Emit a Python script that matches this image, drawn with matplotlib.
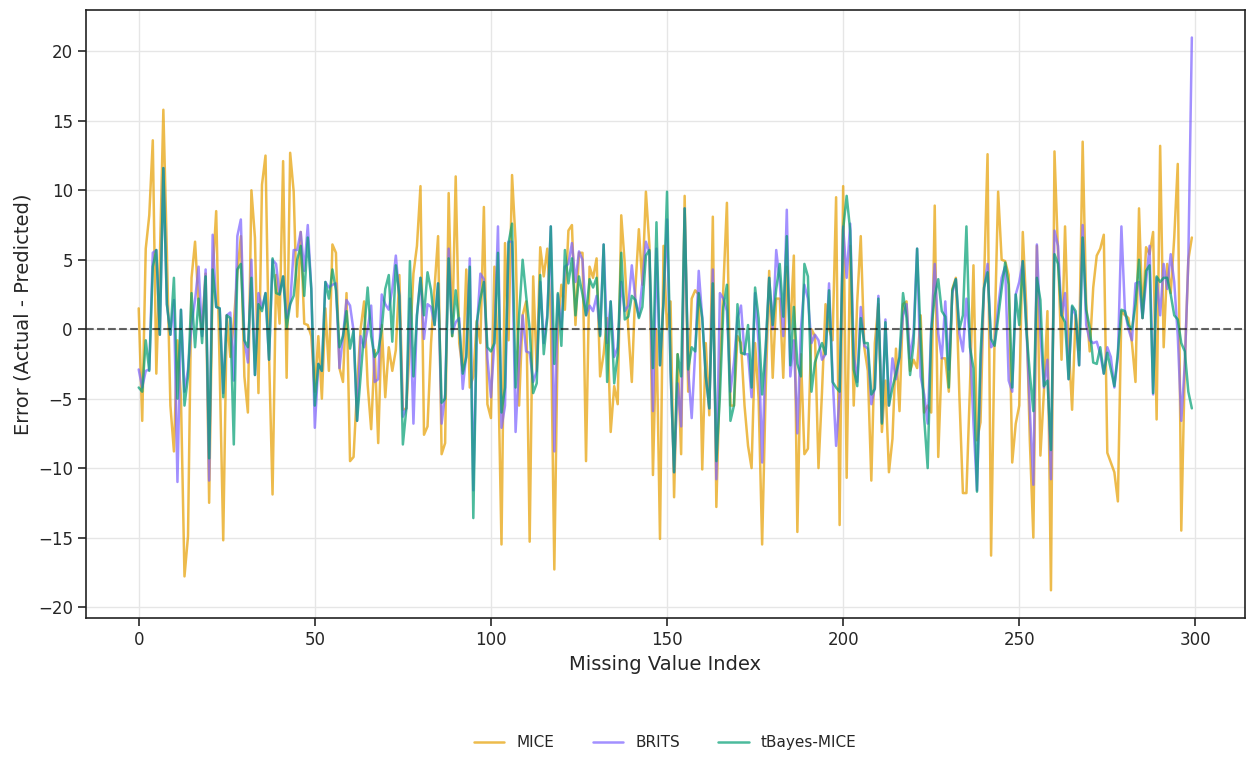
import matplotlib
matplotlib.use("Agg")
import matplotlib.pyplot as plt
import seaborn as sns
import numpy as np

# errors per missing value
mice = [
    1.5, -6.6, 5.8, 8.2, 13.6, -3.2, 5, 15.8, 5.5, -5.5,
    -8.8, -0.8, -5, -17.8, -14.9, 3.7, 6.3, 1.8, 0, 4,
    -12.5, 4, 8.5, -3, -15.2, 1, -2, 0.5, 4, 6.7,
    -3.4, -6, 10, 6.6, -4.6, 10.4, 12.5, -1.8, -11.9, 3.9,
    0.4, 12.1, -3.5, 12.7, 9.9, 0.9, 7, 0.4, 0.3, -0.5,
    -4.5, -0.5, -5, 1.5, -3, 6.1, 5.5, -2.8, -3.8, 2.6,
    -9.5, -9.2, -4.2, 0, 2, -4, -7.2, -1.5, -8.2, 0.3,
    -4.9, -1.3, -3, -1.5, 3.9, -5.8, -5.7, -1, 4, 6,
    10.3, -7.6, -7, -1, 3, 6.7, -9, -8.2, 9.8, -0.5,
    11, -1, -3, 4.3, -4.2, -3.4, 0.6, -1, 8.8, -5.4,
    -6.4, 4.5, -2, -15.5, 6.2, -0.8, 11.1, 6.3, -5.5, 1,
    2, -15.3, 3.8, -3, 5.9, 3.8, 5.8, 1, -17.3, 0,
    3.2, 1.4, 7.1, 7.5, 0.3, 5.5, 5.5, -9.5, 4.5, 3.7,
    5.1, -3.4, -1.8, 0.8, -7.4, -4.1, -5.4, 8.2, 4.7, 0,
    -3.8, 2.9, 7.2, 3.2, 9.9, 6, -10.5, 0, -15.1, 6,
    0, 2, -12.1, -1.8, -9, 9.6, -4.5, 2.2, 2.8, 2.5,
    -10.1, -1, -6.2, 8.1, -12.8, -3, 3, 9.1, -5.5, -5.5,
    -0.5, -1, -5.5, -8.4, -10, -1, -5, -15.5, -4.5, 4.2,
    -3.5, 2.2, 2.2, -3.5, 4.5, 0, 5.3, -14.6, -1.8, -9,
    -8.6, 0, -0.5, -10, -4.5, 1.8, 0, -0.8, 9.5, -14.1,
    10.3, -10.7, 6, -5.5, 2, 6.7, -1.3, -3, -10.9, -1,
    1.8, -7.4, -3.7, -10.3, -7.9, -1.4, -5.9, 1.8, 2, -3,
    -2.2, -2.8, 1, -6, -5.5, -6, 8.9, -9.2, -2.1, -2.1,
    -4.5, 2.9, 3.7, -4.8, -11.8, -11.8, -4.2, 4.6, -8, -6.7,
    3.4, 12.6, -16.3, -0.5, 9.9, 5, 4.9, 3.9, -9.6, -6.8,
    -5.5, 7, 1.6, -8, -15, 6, -9.1, -4.5, 1.3, -18.8,
    12.8, 5.5, -2.2, 7.4, -1, -5.8, 1, -1.5, 13.5, 1.8,
    -1.6, 3, 5.3, 5.8, 6.8, -8.9, -9.6, -10.3, -12.4, 1.3,
    1, 0.8, -1, -3.8, 8.7, 0.8, 5.9, 5.4, 7, -6.5,
    13.2, -1.3, 4.7, 2.6, 6.6, 11.9, -14.5, -2.6, 5, 6.6,
]

brits = [
    -2.9, -4.2, -3, -2.9, 5.5, 5.7, -0.4, 11.6, 1.8, -0.4,
    2.1, -11, 1.4, -4.5, -2.9, 0.3, 2.1, 4.5, -0.5, 4.3,
    -10.9, 6.8, 1.6, 1.5, -4.6, 1, 1.2, -3.7, 6.7, 7.9,
    -0.8, -2.4, 5, -3.3, 2.6, 1.5, 2.6, -2.2, 5, 4.7,
    2.5, 3.8, 0.8, 1.8, 5.7, 5.7, 7, 4.2, 7.5, 2.9,
    -7.1, -2.5, -3, 3.4, 3, 3.2, 3.3, -2.8, -0.5, 2.1,
    1.7, -0.1, -6.6, -0.5, -1.3, 0, 1.7, -3.8, -3.6, 2.5,
    1.8, 1.4, 2.9, 5.3, 2.4, -6.3, -5.7, 2.2, -6.8, 1,
    3.7, -0.7, 1.8, 1.6, 0.3, 3.3, -6.8, -4.7, 5.8, -0.3,
    0.5, 0.8, -4.3, -1.8, 5.1, -11.6, 0, 4, 3.6, -2.1,
    -4.9, -0.8, 7.4, -7.1, -5.5, 6.3, 6.3, -7.4, -2.4, 1,
    -1.6, -1.7, -3.8, -3, 3.4, -1, 1, 7.4, -8.8, 2.5,
    0, 4.5, 4.7, 6.2, 3.4, 5.6, 5, 1, 1.7, 1.3,
    2.4, -0.4, 6.1, -1, 2, -2, -1.3, 3.4, 1.3, 1.7,
    4.6, 2.2, 0.9, 3.4, 6.3, 5.5, -5.9, 5.8, -2.6, 2,
    7.9, -3, -10.3, -3.9, -7, 8.7, -2.9, -6.4, -1.6, 4.2,
    0.8, -3.4, -5.7, 4.3, -10.8, 2.6, 2.2, 1.3, -4.5, -2.4,
    0.8, 1.7, -1.8, -1.8, -4.9, 2.6, -1, -9.6, -1.6, 3.7,
    0, 5.7, 3.4, -0.5, 8.6, -3.4, -0.8, -7.5, 0, 3.2,
    2.2, -1, -0.4, -0.8, -2.2, -1.8, 3.3, -3.4, -8.4, -4.7,
    7.4, 3.7, 7.6, -1.8, -3.8, 1.6, -1.2, -1.4, -5.4, -4.2,
    2.4, -6.7, 0.7, -5.5, -2.1, -3.6, -2, 1, 1.8, -2.1,
    -0.3, 5.8, -3.4, -4.7, -6.8, 0, 4.7, -0.3, -2.1, 2,
    -2.9, 2.6, 3.6, -0.3, -1.6, 2.2, -0.9, -6.8, -11.6, -2.9,
    2.9, 4.7, -1.3, -1, 1.6, 3.7, 4.5, -3.7, -4.5, 2.5,
    3.4, 4.9, 0.3, -5.8, -11.2, 6.1, -0.3, -4.2, -2.2, -10.8,
    7.1, 6, 1, 2.6, -3.6, 1.6, 1, -2.6, 7.5, 0.3,
    -0.8, -1, -0.9, -1.8, -3.2, -1.3, -2, -4.2, -2, 7.4,
    1.3, 0, -0.8, 3.3, 3.4, 0.8, 3.4, 6, -4.7, 3.7,
    1, 4.7, 2.9, 5.4, 3.4, -0.5, -6.6, -2.5, 5, 21,
]

tbayes = [
    -4.2, -4.5, -0.8, -3, 4.5, 5.7, -0.4, 11.6, 1.8, -0.4,
    3.7, -5, 1.4, -5.5, -3.4, 2.6, -1.3, 2.2, -1, 3.8,
    -9.3, 4.3, 1.6, 1.5, -4.9, 1, 0.8, -8.3, 4.3, 4.7,
    -0.8, -1.3, 3.7, -3.3, 1.8, 1.3, 2.6, -2.2, 5.1, 2.6,
    2.5, 3.8, 0.1, 1.8, 2.4, 5, 6, 2.4, 6.6, 2.9,
    -5.5, -2.5, -3, 3.4, 2.2, 4.3, 2.8, -1.3, -0.5, 1.3,
    -1.4, -0.1, -6.6, -3.4, -0.3, 3, -0.5, -2, -1.6, 0,
    2.9, 3.9, -0.9, 4.6, 2.4, -8.3, -5.7, 4.9, -3.4, 1,
    3.7, 1, 4.1, 2.8, 0.3, 3.3, -5.3, -5, 5.1, -0.5,
    2.8, 0.3, -3.2, -2, 4.5, -13.6, 0.5, 2.2, 3.4, -1.3,
    -1.6, -1, 5.5, -6, -4.2, 6.2, 7.6, -4.2, 1, 5,
    2.4, 0, -4.6, -3.9, 3.9, -1.8, 0.8, 7.4, -2.5, 2.6,
    -1.2, 5.7, 3.3, 5.1, 1, 3.8, 2.5, 1, 3.6, 3,
    3.7, -0.5, 6.1, -3.8, 2, -3.9, -1.8, 5.5, 0.7, 0.9,
    2.4, 2.1, 0.8, 1.6, 5.3, 5.7, -2.8, 7.7, -2.6, 2,
    9.9, -3, -10.3, -1.8, -3.4, 8.7, -2.9, -1.3, -1.6, 2.6,
    0.8, -3.4, -5.7, 3.3, -9.5, -4.9, 1.6, 3.2, -6.6, -5.5,
    1.8, -1.7, -1.8, 0.3, -4.2, 3, 0.8, -4.7, -1.3, 3.7,
    0.3, 2.9, 4.7, 0.9, 6.7, -2.6, 1.6, -2.5, -3.4, 4.7,
    3.8, -4.5, -2.4, -1.6, -1, -1.8, 2.8, -3.8, -4.2, -4.5,
    7.2, 9.6, 7.1, -2.9, -4.1, 0.8, -1, -1, -4.7, -4.3,
    2.2, -6.8, 0.5, -5.5, -4.2, -3.2, -2, 2.6, 0.8, -3.3,
    -1, 5.8, -0.5, -6.4, -10, -0.1, 2.4, 3.6, 1.3, 0.9,
    -4.2, 2.8, 3.6, 0, 1, 7.4, -1.3, -2.8, -11.7, -1.8,
    3, 4.1, -0.7, -1.2, 0.8, 2.9, 4.8, 3.2, -4.2, 2.5,
    0.3, 4.9, 0, -3.2, -5.9, 3.7, 2.1, -4.1, -3.7, -8.7,
    5.4, 4.7, 1, 0.5, -3.6, 1.7, 1.3, -2.6, 6.6, 1.4,
    0.1, -2.4, -2.5, -1.3, -3.2, -1.7, -2.9, -4.1, -1.7, 1.4,
    1.3, 0.3, 0, 1.8, 5, 0.8, 4.2, 4.6, -4.6, 3.8,
    3.4, 3.7, 3.7, 2.5, 1, 0.7, -1, -1.6, -4.5, -5.7,
]

series_names = ["MICE", "BRITS", "tBayes-MICE"]
series_colors = ["#E69F00", "#7B61FF", "#009E73"]

sns.set_style("ticks")
plt.rcParams['font.family'] = ['DejaVu Sans']

fig, ax = plt.subplots(figsize=(12.47, 7.61), dpi=100)
idx = np.arange(len(mice))
for vals, name, col in zip([mice, brits, tbayes], series_names, series_colors):
    ax.plot(idx, vals, color=col, alpha=0.7, linewidth=1.8, label=name)

ax.axhline(0, color="black", linestyle="--", linewidth=1.5, alpha=0.6)

ax.grid(True, color="#e6e6e6", linewidth=1)
ax.set_axisbelow(True)
ax.set_xlabel("Missing Value Index", fontsize=14)
ax.set_ylabel("Error (Actual - Predicted)", fontsize=14)
ax.tick_params(axis="both", labelsize=12, length=6, width=1.2)
for s in ax.spines.values():
    s.set_linewidth(1.2)
    s.set_color("#222222")

ax.legend(loc="upper center", bbox_to_anchor=(0.5, -0.17), ncol=3,
          frameon=False, fontsize=11, columnspacing=2.5)

fig.subplots_adjust(left=0.069, right=0.998, top=0.987, bottom=0.188)
fig.savefig("out.png", dpi=100)
